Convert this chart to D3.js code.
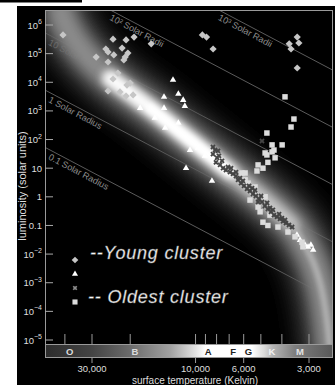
<!DOCTYPE html>
<html>
<head>
<meta charset="utf-8">
<script src="https://cdn.jsdelivr.net/npm/d3@7"></script>
<style>
  html, body { margin: 0; padding: 0; background: #fff; }
  svg { display: block; }
  text { font-family: "Liberation Sans", Arial, Helvetica, sans-serif; }
</style>
</head>
<body>
<div id="chart"></div>
<script>
// ---- data: [temperature (K), luminosity (solar units)] ----
const youngDiamonds = [
  [40800, 4.5e5], [24000, 3.2e5], [20900, 3.0e5], [19200, 3.8e5], [16000, 2.2e5],
  [25900, 1.45e5], [25300, 1.14e5], [23800, 9.0e4], [21800, 1.57e5], [20500, 1.05e5],
  [21100, 7.6e4], [21400, 6.0e4], [28700, 7.6e4], [25300, 5.1e4], [22800, 2.1e4],
  [24000, 1.3e4], [20000, 9400], [20700, 8000], [25300, 5000], [22300, 4600],
  [20900, 3300], [19400, 3600],
  [9300, 4.5e5], [8900, 3.8e5], [8300, 1.45e5],
  [3700, 2.2e5], [3630, 1.45e5], [3400, 3.8e5], [3340, 2.35e5], [3400, 3.15e4]
];

const youngTriangles = [
  [13970, 3060], [13970, 1260], [12700, 12000], [12000, 3900], [11400, 2400],
  [11200, 1480], [8400, 3.6], [12000, 380], [11060, 10], [10600, 43],
  [18000, 1260], [15400, 566], [13800, 253], [9740, 51], [9050, 27],
  [3410, 0.0465], [3300, 0.031], [3130, 0.021], [3030, 0.0177], [2940, 0.021], [2870, 0.0139]
];

const oldCrosses = [
  [8310, 55], [8130, 43], [8310, 31], [7960, 23], [8050, 16], [7710, 13], [7550, 18],
  [7470, 10], [7240, 8.6], [7090, 11], [6940, 7.3], [6720, 6.3], [6510, 5.3], [6370, 3.9],
  [6240, 4.5], [6170, 3.0], [5980, 2.4], [5790, 1.9], [5610, 1.6], [5490, 2.0],
  [5440, 1.26], [5270, 1.07], [5100, 0.84], [5150, 0.66], [4940, 0.66], [4790, 0.48],
  [4640, 0.375], [4540, 0.41], [4490, 0.30], [4350, 0.23], [4210, 0.20], [4080, 0.17],
  [4000, 0.18], [3950, 0.14], [3830, 0.12], [3710, 0.104], [3590, 0.088], [4940, 89],
  [7880, 40], [7800, 27], [6860, 10], [6510, 7.3], [6050, 3.6], [5670, 2.4], [5320, 1.7],
  [4990, 1.07], [4680, 0.61], [4400, 0.35], [4120, 0.25], [3870, 0.155]
];

const oldSquares = [
  [3870, 3100], [3520, 520], [3630, 274],
  [4690, 169], [4440, 65], [3990, 65], [4350, 43], [4780, 34], [4440, 37], [4690, 29],
  [4300, 23], [4640, 16], [5150, 13], [4890, 10], [5210, 8.0], [5910, 6.8], [6110, 6.8],
  [5910, 3.9], [5730, 3.0], [5320, 2.2], [5430, 1.36], [5610, 0.77], [5150, 0.44],
  [5040, 0.30], [4890, 0.13], [4640, 0.10], [4170, 0.088], [3750, 0.059], [3480, 0.040],
  [3230, 0.026], [3200, 0.018], [4780, 1.0], [4540, 0.23]
];

// centre line of the grey main-sequence glow
const bandTemps = [42100, 39500, 34100, 24800, 16200, 10600, 6940, 4790, 3590, 3160, 2870, 2640, 2480, 2400];
const bandLums = [3.3e6, 9.2e5, 1.6e5, 1.4e4, 1260, 96, 7.3, 0.77, 0.104, 0.0226, 0.0053, 7.1e-4, 5.0e-5, 4.5e-6];

const radii = [0.1, 1, 10, 100, 1000];
const radiusLabels = ['0.1 Solar Radius', '1 Solar Radius', '10 Solar Radii', '10\u00B2 Solar Radii', '10\u00B3 Solar Radii'];

const lumExponents = [-5, -4, -3, -2, -1, 0, 1, 2, 3, 4, 5, 6];
const tempTicks = [30000, 10000, 6000, 3000];
const tempTickLabels = ['30,000', '10,000', '6,000', '3,000'];
const minorTempTicks = [40000, 30000, 20000, 10000, 9000, 8000, 7000, 6000, 5000, 4000, 3000];

const spectralClasses = ['O', 'B', 'A', 'F', 'G', 'K', 'M'];
const spectralTemps = [38000, 19000, 8750, 6700, 5700, 4450, 3300];

const legendLabels = ['--Young cluster', '-- Oldest cluster'];

// ---- layout ----
const W = 335, H = 385;
const pLeft = 45, pRight = 333, pTop = 10, pBottom = 344, barBottom = 358;

const x = d3.scaleLog().domain([30000, 3000]).range([92, 309]);
const y = d3.scaleLog().domain([1e6, 1e-5]).range([25, 340]);

const svg = d3.select('#chart').append('svg')
    .attr('width', W)
    .attr('height', H);

svg.append('rect').attr('width', W).attr('height', H).attr('fill', '#fff');
svg.append('rect').attr('x', 17).attr('y', 6).attr('width', W - 17).attr('height', H - 6).attr('fill', '#000');
// cropped rule of the page above the figure
svg.append('rect').attr('x', 0).attr('y', 0).attr('width', 82).attr('height', 2.5).attr('fill', '#000');

const defs = svg.append('defs');
defs.append('clipPath').attr('id', 'plotClip')
    .append('rect').attr('x', pLeft).attr('y', pTop).attr('width', pRight - pLeft).attr('height', pBottom - pTop);

function blur(id, sd) {
    defs.append('filter').attr('id', id)
        .attr('x', '-50%').attr('y', '-50%').attr('width', '200%').attr('height', '200%')
        .append('feGaussianBlur').attr('stdDeviation', sd);
}
blur('blur12', 12);
blur('blur7', 7);
blur('blur4', 4);
blur('blur2', 2);

const plot = svg.append('g').attr('clip-path', 'url(#plotClip)');

// constant radius lines: L = R^2 (T/5778)^4
const lumAt = (R, T) => R * R * Math.pow(T / 5778, 4);
const Tfar = [80000, 1500];
const lineAngle = Math.atan2(y(lumAt(1, Tfar[1])) - y(lumAt(1, Tfar[0])),
    x(Tfar[1]) - x(Tfar[0])) * 180 / Math.PI;

radii.forEach((R, i) => {
    plot.append('line')
        .attr('x1', x(Tfar[0])).attr('y1', y(lumAt(R, Tfar[0])))
        .attr('x2', x(Tfar[1])).attr('y2', y(lumAt(R, Tfar[1])))
        .attr('stroke', '#727272')
        .attr('stroke-width', 0.8);

    // where the line enters the plot
    const Ttop = 5778 * Math.pow(y.invert(pTop) / (R * R), 0.25);
    const xe = x(Ttop);
    const ax = xe < pLeft ? pLeft + 7 : xe + 3;
    const ay = y(lumAt(R, x.invert(ax)));
    plot.append('text')
        .attr('transform', `translate(${ax},${ay}) rotate(${lineAngle})`)
        .attr('y', 9)
        .attr('font-size', 9)
        .attr('fill', '#8c8c8c')
        .text(radiusLabels[i]);
});

// main-sequence glow
const band = bandTemps.map((t, i) => [t, bandLums[i]]);
const bandLine = d3.line()
    .x(d => x(d[0]))
    .y(d => y(d[1]))
    .curve(d3.curveCatmullRom);

const glow = plot.append('g').attr('fill', 'none').attr('stroke-linecap', 'round');
glow.append('path').attr('d', bandLine(band))
    .attr('stroke', '#505050').attr('stroke-width', 52).attr('filter', 'url(#blur12)');
glow.append('path').attr('d', bandLine(band))
    .attr('stroke', '#8c8c8c').attr('stroke-width', 26).attr('filter', 'url(#blur7)');
glow.append('path').attr('d', bandLine(band.slice(3, 9)))
    .attr('stroke', '#c8c8c8').attr('stroke-width', 14).attr('filter', 'url(#blur4)');
glow.append('path').attr('d', bandLine(band.slice(3, 7)))
    .attr('stroke', '#ffffff').attr('stroke-width', 14).attr('filter', 'url(#blur4)');
glow.append('path').attr('d', bandLine(band.slice(4, 7)))
    .attr('stroke', '#ffffff').attr('stroke-width', 8).attr('filter', 'url(#blur2)');
glow.append('path').attr('d', bandLine(band.slice(8)))
    .attr('stroke', '#b0b0b0').attr('stroke-width', 6).attr('filter', 'url(#blur2)');

// stars
const pts = plot.append('g');
function drawSymbols(data, type, size, fill, rot) {
    pts.append('g').selectAll('path')
        .data(data)
        .enter()
        .append('path')
        .attr('d', d3.symbol().type(type).size(size))
        .attr('transform', d => `translate(${x(d[0])},${y(d[1])}) rotate(${rot})`)
        .attr('fill', fill);
}
drawSymbols(youngDiamonds, d3.symbolSquare, 26, '#c6c6c6', 45);
drawSymbols(youngTriangles, d3.symbolTriangle, 18, '#ffffff', 0);
drawSymbols(oldSquares, d3.symbolSquare, 30, '#dcdcdc', 0);
drawSymbols(oldCrosses, d3.symbolCross, 18, '#444', 45);

// spectral class strip
const grad = defs.append('linearGradient').attr('id', 'specGrad')
    .attr('gradientUnits', 'userSpaceOnUse')
    .attr('x1', pLeft).attr('x2', pRight).attr('y1', 0).attr('y2', 0);
[[50000, '#2c2c2c'], [30000, '#444'], [20000, '#6c6c6c'], [13000, '#a2a2a2'],
 [10000, '#e2e2e2'], [9000, '#fff'], [5500, '#fff'], [4800, '#d8d8d8'],
 [4400, '#b4b4b4'], [3500, '#7e7e7e'], [2300, '#585858']].forEach(s => {
    grad.append('stop')
        .attr('offset', Math.max(0, Math.min(1, (x(s[0]) - pLeft) / (pRight - pLeft))))
        .attr('stop-color', s[1]);
});
svg.append('rect')
    .attr('x', pLeft).attr('y', pBottom)
    .attr('width', pRight - pLeft).attr('height', barBottom - pBottom)
    .attr('fill', 'url(#specGrad)');

const letterFill = ['#dcdcdc', '#dcdcdc', '#222', '#222', '#222', '#f2f2f2', '#e4e4e4'];
svg.append('g').selectAll('text')
    .data(spectralClasses)
    .enter()
    .append('text')
    .attr('x', (d, i) => x(spectralTemps[i]))
    .attr('y', 354.5)
    .attr('text-anchor', 'middle')
    .attr('font-size', 9.5)
    .attr('font-weight', 'bold')
    .attr('fill', (d, i) => letterFill[i])
    .text(d => d);

// frame
svg.append('rect')
    .attr('x', pLeft + 0.5).attr('y', pTop + 0.5)
    .attr('width', pRight - pLeft - 1).attr('height', barBottom - pTop - 1)
    .attr('fill', 'none').attr('stroke', '#9a9a9a').attr('stroke-width', 1);
svg.append('line')
    .attr('x1', pLeft).attr('x2', pRight).attr('y1', pBottom + 0.5).attr('y2', pBottom + 0.5)
    .attr('stroke', '#9a9a9a');

// temperature ticks
svg.append('g').selectAll('line')
    .data(minorTempTicks)
    .enter()
    .append('line')
    .attr('x1', d => x(d)).attr('x2', d => x(d))
    .attr('y1', pBottom - 10).attr('y2', pBottom)
    .attr('stroke', '#9a9a9a');

const xt = svg.append('g').selectAll('g')
    .data(tempTicks)
    .enter()
    .append('g')
    .attr('transform', d => `translate(${x(d)},0)`);
xt.append('line').attr('y1', barBottom).attr('y2', barBottom + 5).attr('stroke', '#9a9a9a');
xt.append('text')
    .attr('y', 372)
    .attr('text-anchor', 'middle')
    .attr('font-size', 9.5)
    .attr('fill', '#dedede')
    .text((d, i) => tempTickLabels[i]);

svg.append('text')
    .attr('x', 195).attr('y', 383.5)
    .attr('text-anchor', 'middle')
    .attr('font-size', 10)
    .attr('fill', '#dedede')
    .text('surface temperature (Kelvin)');

// luminosity ticks
const yt = svg.append('g').selectAll('g')
    .data(lumExponents)
    .enter()
    .append('g')
    .attr('transform', d => `translate(0,${y(Math.pow(10, d))})`);
yt.append('line').attr('x1', pLeft).attr('x2', pLeft + 8).attr('stroke', '#aaa');
yt.each(function (e) {
    const t = d3.select(this).append('text')
        .attr('x', 42).attr('y', 3.5)
        .attr('text-anchor', 'end')
        .attr('font-size', 9.5)
        .attr('fill', '#dedede');
    if (e === 0) t.text('1');
    else if (e === 1) t.text('10');
    else if (e === -1) t.text('0.1');
    else {
        t.append('tspan').text('10');
        t.append('tspan').attr('dy', -4.5).attr('font-size', 7)
            .text(e < 0 ? '\u2212' + (-e) : e);
    }
});

svg.append('text')
    .attr('transform', 'translate(26,186) rotate(-90)')
    .attr('text-anchor', 'middle')
    .attr('font-size', 11)
    .attr('fill', '#dedede')
    .text('luminosity (solar units)');

// legend
const lg = svg.append('g');
const legendSym = [[d3.symbolSquare, 22, '#c6c6c6', 45, 260], [d3.symbolTriangle, 16, '#fff', 0, 274],
    [d3.symbolCross, 14, '#8a8a8a', 45, 288], [d3.symbolSquare, 26, '#dcdcdc', 0, 302]];
legendSym.forEach(s => {
    lg.append('path')
        .attr('d', d3.symbol().type(s[0]).size(s[1]))
        .attr('transform', `translate(75,${s[4]}) rotate(${s[3]})`)
        .attr('fill', s[2]);
});
lg.selectAll('text')
    .data(legendLabels)
    .enter()
    .append('text')
    .attr('x', (d, i) => i ? 88 : 90)
    .attr('y', (d, i) => i ? 303 : 259)
    .attr('font-size', 18)
    .attr('font-style', 'italic')
    .attr('letter-spacing', 0.8)
    .attr('fill', '#fafafa')
    .attr('stroke', '#777')
    .attr('stroke-width', 0.4)
    .text(d => d);
</script>
</body>
</html>
